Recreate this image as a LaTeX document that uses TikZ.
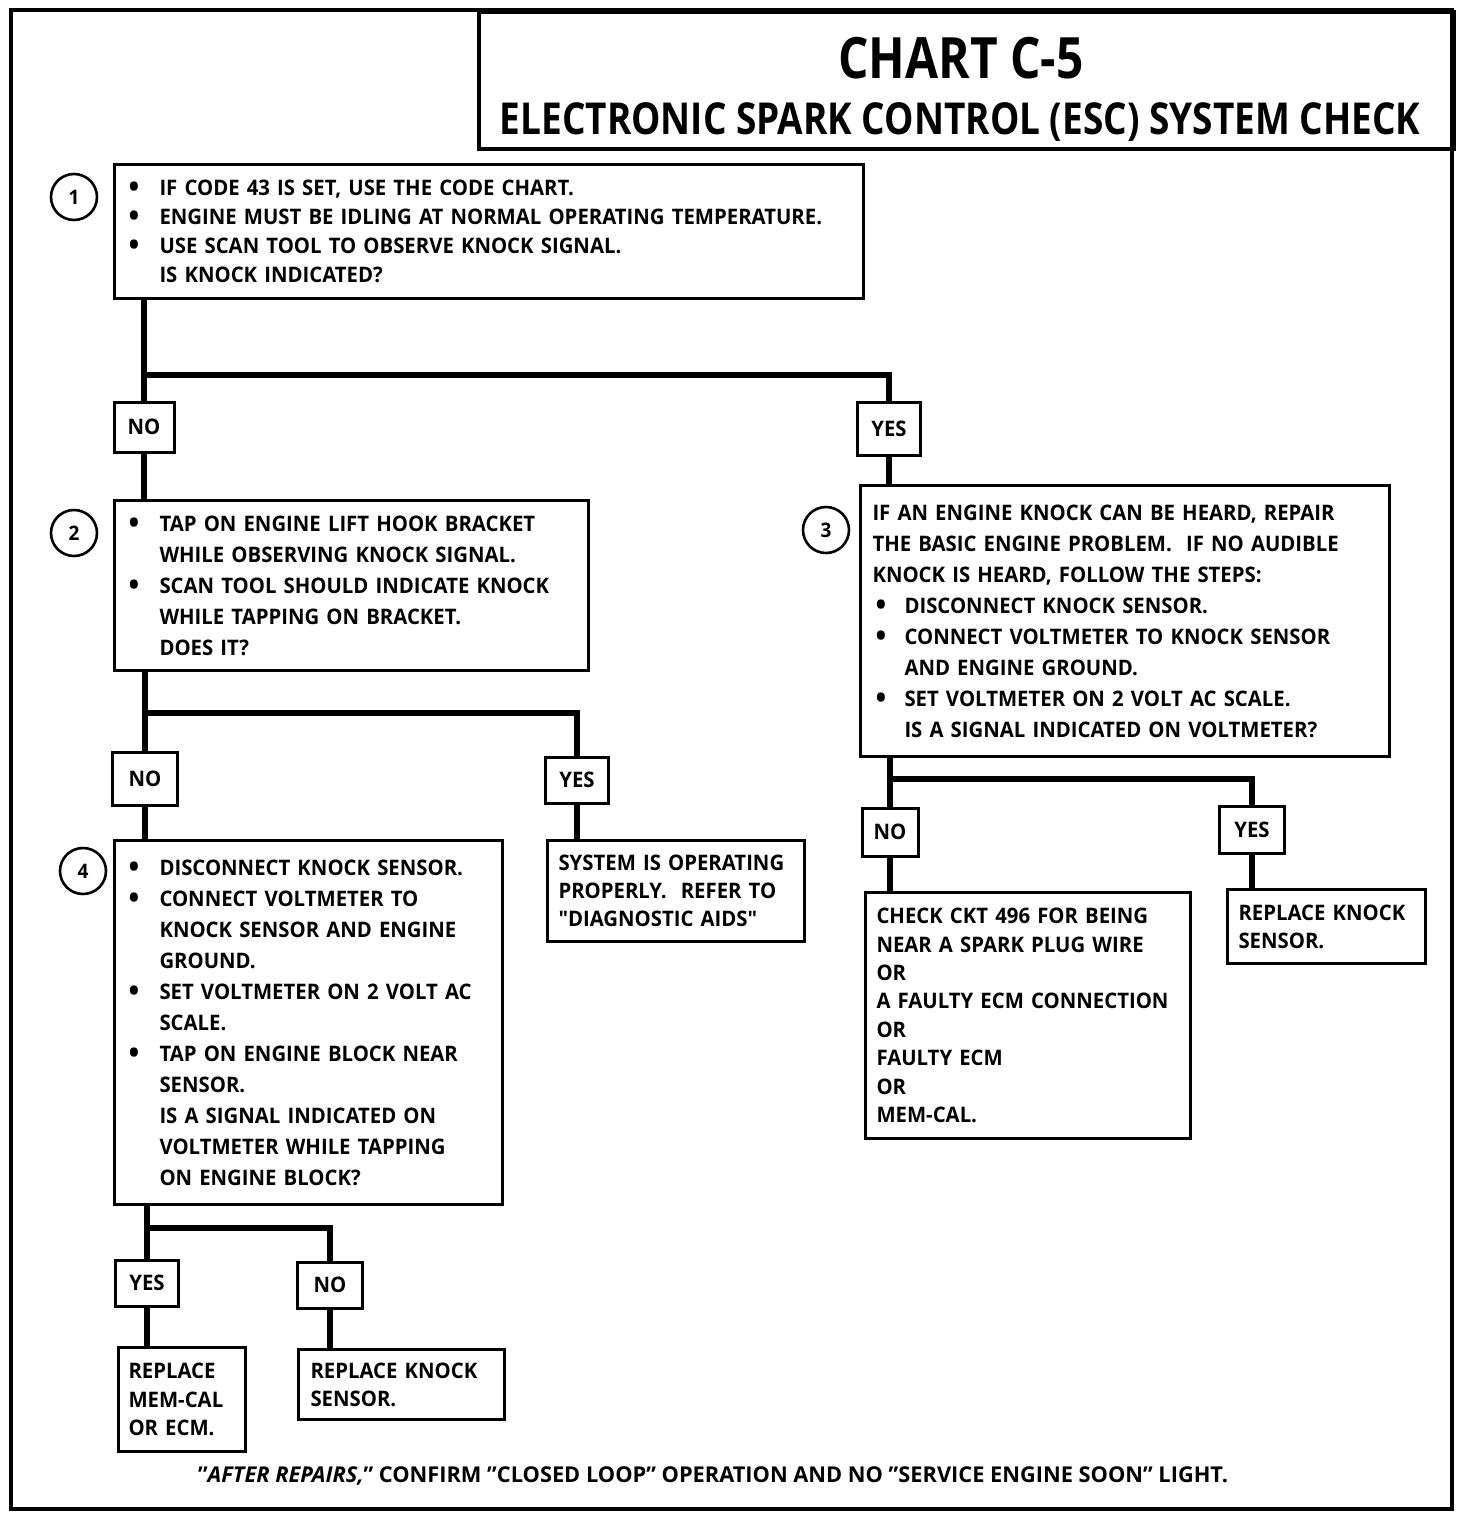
\documentclass[tikz,border=0pt]{standalone}
\usepackage{fontspec}
\setmainfont{Open Sans}
\newfontfamily\titlefont{Open Sans}[FakeStretch=0.84]
\newfontfamily\bodyfont{Open Sans}[FakeStretch=0.95]
\newcommand\bigbul{\raisebox{-1pt}{\fontsize{15}{15}\selectfont\textbullet}}
\newcommand\bulA{\makebox[15.5pt][l]{\bigbul}}
\newcommand\indA{\hspace*{15.5pt}}
\newcommand\bulB{\hspace*{1.5pt}\makebox[14.5pt][l]{\bigbul}}
\newcommand\indB{\hspace*{16pt}}
\tikzset{
  box/.style={draw, line width=1.5pt, anchor=north west, align=left, inner ysep=0pt},
  ls/.style={font=\bodyfont\bfseries\fontsize{10.7}{#1}\selectfont},
  lbl/.style={draw, line width=1.5pt, inner sep=0pt, font=\bodyfont\bfseries\fontsize{10.7}{12}\selectfont},
  conn/.style={line width=3pt, line join=miter},
  num/.style={circle, draw, line width=1.3pt, minimum size=23pt, inner sep=0pt, font=\bodyfont\bfseries\fontsize{10}{11}\selectfont},
}
\begin{document}
\begin{tikzpicture}[x=0.5pt,y=-0.5pt]
\useasboundingbox (0,0) rectangle (1472,1516);
% outer frame
\draw[line width=2pt] (11,10) rectangle (1452,1509);
% title box
\node[draw, line width=2pt, anchor=north west, minimum width=487.5pt, minimum height=68.5pt, inner sep=0pt] (tbox) at (477,10) {};
\node[font=\titlefont\bfseries\fontsize{28.5}{30}\selectfont] (t1) at (961,58) {CHART C-5};
\node[font=\titlefont\bfseries\fontsize{22}{24}\selectfont] (t2) at (960,122) {ELECTRONIC SPARK CONTROL (ESC) SYSTEM CHECK};

% step boxes
\node[box, ls=14.5pt, minimum width=374.5pt, minimum height=67pt, text width=360.5pt, inner xsep=7pt] (b1) at (113,163) {%
\mbox{\bulA IF CODE 43 IS SET, USE THE CODE CHART.}\\
\mbox{\bulA ENGINE MUST BE IDLING AT NORMAL OPERATING TEMPERATURE.}\\
\mbox{\bulA USE SCAN TOOL TO OBSERVE KNOCK SIGNAL.}\\
\mbox{\indA IS KNOCK INDICATED?}};
\node[num] (c1) at (74,197) {1};

\node[box, ls=15.5pt, minimum width=237pt, minimum height=85pt, text width=223pt, inner xsep=7pt] (b2) at (113,499) {%
\mbox{\bulA TAP ON ENGINE LIFT HOOK BRACKET}\\
\mbox{\indA WHILE OBSERVING KNOCK SIGNAL.}\\
\mbox{\bulA SCAN TOOL SHOULD INDICATE KNOCK}\\
\mbox{\indA WHILE TAPPING ON BRACKET.}\\
\mbox{\indA DOES IT?}};
\node[num] (c2) at (74,533) {2};

\node[box, ls=15.5pt, minimum width=264.5pt, minimum height=135.5pt, text width=252.5pt, inner xsep=6pt] (b3) at (859,484) {%
\mbox{IF AN ENGINE KNOCK CAN BE HEARD, REPAIR}\\
\mbox{THE BASIC ENGINE PROBLEM.\ \ IF NO AUDIBLE}\\
\mbox{KNOCK IS HEARD, FOLLOW THE STEPS:}\\
\mbox{\bulB DISCONNECT KNOCK SENSOR.}\\
\mbox{\bulB CONNECT VOLTMETER TO KNOCK SENSOR}\\
\mbox{\indB AND ENGINE GROUND.}\\
\mbox{\bulB SET VOLTMETER ON 2 VOLT AC SCALE.}\\
\mbox{\indB IS A SIGNAL INDICATED ON VOLTMETER?}};
\node[num] (c3) at (826,530) {3};

\node[box, ls=15.5pt, minimum width=194pt, minimum height=182pt, text width=180pt, inner xsep=7pt] (b4) at (113,839) {%
\mbox{\bulA DISCONNECT KNOCK SENSOR.}\\
\mbox{\bulA CONNECT VOLTMETER TO}\\
\mbox{\indA KNOCK SENSOR AND ENGINE}\\
\mbox{\indA GROUND.}\\
\mbox{\bulA SET VOLTMETER ON 2 VOLT AC}\\
\mbox{\indA SCALE.}\\
\mbox{\bulA TAP ON ENGINE BLOCK NEAR}\\
\mbox{\indA SENSOR.}\\
\mbox{\indA IS A SIGNAL INDICATED ON}\\
\mbox{\indA VOLTMETER WHILE TAPPING}\\
\mbox{\indA ON ENGINE BLOCK?}};
\node[num] (c4) at (83,871) {4};

\node[box, ls=14pt, minimum width=128.5pt, minimum height=50.5pt, text width=117.5pt, inner xsep=5.5pt] (sys) at (546,839) {%
\mbox{SYSTEM IS OPERATING}\\
\mbox{PROPERLY.\ \ REFER TO}\\
\mbox{"DIAGNOSTIC AIDS"}};

\node[box, ls=14.2pt, minimum width=162.5pt, minimum height=123pt, text width=151.5pt, inner xsep=5.5pt] (ckt) at (864,891) {%
\mbox{CHECK CKT 496 FOR BEING}\\
\mbox{NEAR A SPARK PLUG WIRE}\\
OR\\
\mbox{A FAULTY ECM CONNECTION}\\
OR\\
\mbox{FAULTY ECM}\\
OR\\
\mbox{MEM-CAL.}};

\node[box, ls=14pt, minimum width=99pt, minimum height=37pt, text width=88pt, inner xsep=5.5pt] (rks) at (1226,888) {%
\mbox{REPLACE KNOCK}\\
\mbox{SENSOR.}};

\node[box, ls=14.3pt, minimum width=63.5pt, minimum height=52pt, text width=53.5pt, inner xsep=5pt] (rmc) at (117,1346) {%
\mbox{REPLACE}\\
\mbox{MEM-CAL}\\
\mbox{OR ECM.}};

\node[box, ls=14pt, minimum width=103pt, minimum height=35pt, text width=91pt, inner xsep=6pt] (rks2) at (297,1348) {%
\mbox{REPLACE KNOCK}\\
\mbox{SENSOR.}};

% yes/no labels
\node[lbl, minimum width=30pt, minimum height=25pt] (no1) at (144,427) {NO};
\node[lbl, minimum width=31.5pt, minimum height=26.5pt] (yes1) at (889,429) {YES};
\node[lbl, minimum width=32.5pt, minimum height=26.5pt] (no2) at (145,779) {NO};
\node[lbl, minimum width=31.5pt, minimum height=23pt] (yes2) at (577,780) {YES};
\node[lbl, minimum width=28pt, minimum height=24pt] (no3) at (890,832) {NO};
\node[lbl, minimum width=32.5pt, minimum height=23.5pt] (yes3) at (1252,830) {YES};
\node[lbl, minimum width=31.5pt, minimum height=23pt] (yes4) at (147,1283) {YES};
\node[lbl, minimum width=32.5pt, minimum height=23pt] (no4) at (330,1285) {NO};

% connectors
\coordinate (j1) at (144,375);
\coordinate (j2) at (145,713);
\coordinate (j3) at (890,779);
\coordinate (j4) at (147,1228);
\draw[conn] (b1.south -| no1.north) -- (no1.north);
\draw[conn] (j1) -| (yes1.north);
\draw[conn] (no1.south) -- (no1.south |- b2.north);
\draw[conn] (yes1.south) -- (yes1.south |- b3.north);
\draw[conn] (b2.south -| no2.north) -- (no2.north);
\draw[conn] (j2) -| (yes2.north);
\draw[conn] (no2.south) -- (no2.south |- b4.north);
\draw[conn] (yes2.south) -- (yes2.south |- sys.north);
\draw[conn] (b3.south -| no3.north) -- (no3.north);
\draw[conn] (j3) -| (yes3.north);
\draw[conn] (no3.south) -- (no3.south |- ckt.north);
\draw[conn] (yes3.south) -- (yes3.south |- rks.north);
\draw[conn] (b4.south -| yes4.north) -- (yes4.north);
\draw[conn] (j4) -| (no4.north);
\draw[conn] (yes4.south) -- (yes4.south |- rmc.north);
\draw[conn] (no4.south) -- (no4.south |- rks2.north);

% footer
\node[font=\bfseries\fontsize{10.9}{12}\selectfont] (foot) at (713,1476) {"\textit{AFTER REPAIRS,}" CONFIRM "CLOSED LOOP" OPERATION AND NO "SERVICE ENGINE SOON" LIGHT.};
\end{tikzpicture}
\end{document}
